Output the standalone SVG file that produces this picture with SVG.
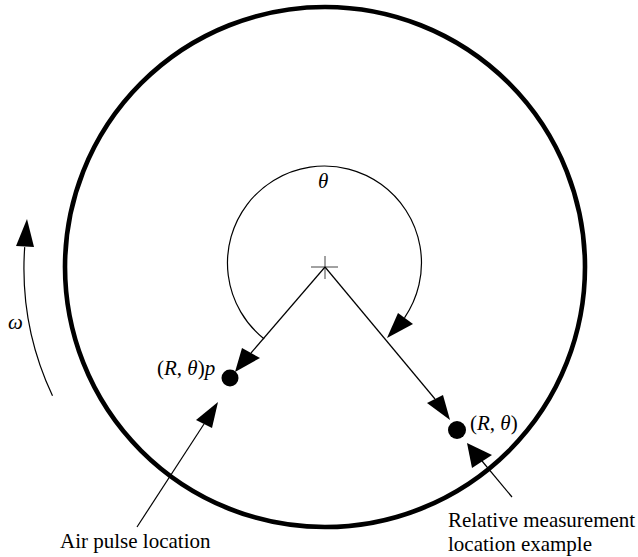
<svg xmlns="http://www.w3.org/2000/svg" width="638" height="557" viewBox="0 0 638 557">
<style>
text{font-family:"Liberation Serif","Times New Roman",serif;font-size:21px;fill:#000}
.i{font-style:italic}
.ln{fill:none;stroke:#000;stroke-width:1.2}
.ah{fill:#000;stroke:none}
</style>
<rect width="638" height="557" fill="#fff"/>
<g id="disk">
<circle cx="325" cy="267" r="260" fill="none" stroke="#000" stroke-width="4.6"/>
</g>
<g id="center">
<line x1="311" y1="267" x2="338" y2="267" stroke="#444" stroke-width="1"/>
<line x1="325" y1="256" x2="325" y2="279" stroke="#444" stroke-width="1"/>
</g>
<g id="theta-arc">
<path class="ln" d="M 264.2 339 A 97 97 0 1 1 404.5 317.8"/>
<polygon class="ah" points="398,313 413,324 387,338"/>
<text x="318" y="188" class="i">θ</text>
</g>
<g id="omega">
<path class="ln" d="M 52.5 395.8 A 300 300 0 0 1 24.7 247.1"/>
<polygon class="ah" points="27,219 16,246 34,247"/>
<text x="8" y="329" class="i">ω</text>
</g>
<g id="pulse-point">
<circle cx="230" cy="378" r="8.5" fill="#000"/>
<text x="157" y="375">(<tspan class="i">R</tspan>, <tspan class="i">θ</tspan>)<tspan class="i">p</tspan></text>
</g>
<g id="measure-point">
<circle cx="457" cy="430" r="9" fill="#000"/>
<text x="470" y="430">(<tspan class="i">R</tspan>, <tspan class="i">θ</tspan>)</text>
</g>
<g id="label-air">
<text x="60" y="548">Air pulse location</text>
</g>
<g id="label-rel">
<text x="448" y="527">Relative measurement</text>
<text x="448" y="551">location example</text>
</g>
<g id="connectors">
<line class="ln" x1="325" y1="267" x2="251" y2="353"/>
<polygon class="ah" points="235,372 242,348 260,358"/>
<line class="ln" x1="325" y1="267" x2="435" y2="399"/>
<polygon class="ah" points="450,420 427,403 443,395"/>
<line class="ln" x1="137" y1="527" x2="204" y2="424"/>
<polygon class="ah" points="218,402 196,420 212,428"/>
<line class="ln" x1="512" y1="497" x2="482" y2="461"/>
<polygon class="ah" points="467,443 472,468 492,455"/>
</g>
</svg>
